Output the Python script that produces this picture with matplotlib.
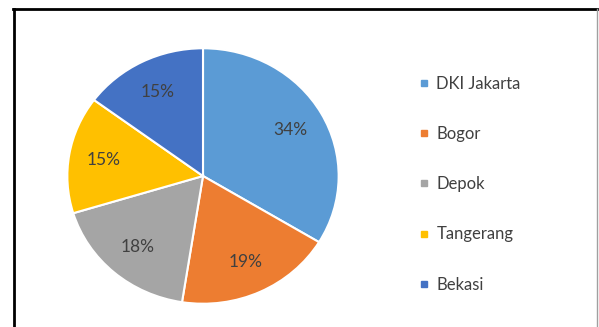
import matplotlib.pyplot as plt
from matplotlib.lines import Line2D

# data
regions = ['DKI Jakarta', 'Bogor', 'Depok', 'Tangerang', 'Bekasi']
shares = [34, 19, 18, 15, 15]
colors = ['#5B9BD5', '#ED7D31', '#A5A5A5', '#FFC000', '#4472C4']

plt.rcParams['font.family'] = ['Lato', 'DejaVu Sans']
text_color = '#404040'

fig = plt.figure(figsize=(5.99, 3.27), dpi=100)
W, H = 599, 327

# pie axes placed on the pie's pixel box (slightly stretched like the source)
ax = fig.add_axes([66 / W, 1 - 305 / H, 274 / W, 258 / H])
wedges, texts = ax.pie(shares, colors=colors, startangle=90, counterclock=False,
                       labels=[f'{v}%' for v in shares], labeldistance=0.74,
                       wedgeprops=dict(edgecolor='white', linewidth=1.5),
                       textprops=dict(color=text_color, fontsize=12.5, ha='center', va='center'))
ax.set_aspect('auto')
ax.set_xlim(-1.01, 1.01)
ax.set_ylim(-1.01, 1.01)

# legend with small square markers
handles = [Line2D([], [], marker='s', linestyle='none', markersize=4.5,
                  markerfacecolor=c, markeredgecolor=c) for c in colors]
fig.legend(handles, regions, loc='upper left', bbox_to_anchor=(419 / W, 1 - 76 / H),
           frameon=False, fontsize=12, labelcolor=text_color, handlelength=0.6,
           handletextpad=0.45, labelspacing=2.05, borderaxespad=0, borderpad=0)

# chart frame: black left/top, grey right, bottom cut off
fig.add_artist(Line2D([14 / W, 14 / W], [0, 1 - 9 / H], transform=fig.transFigure,
                      color='black', linewidth=2))
fig.add_artist(Line2D([13 / W, 597 / W], [1 - 9 / H, 1 - 9 / H], transform=fig.transFigure,
                      color='black', linewidth=2))
fig.add_artist(Line2D([597 / W, 597 / W], [0, 1 - 9 / H], transform=fig.transFigure,
                      color='#a0a0a0', linewidth=1))

fig.savefig('out.png', dpi=100)
